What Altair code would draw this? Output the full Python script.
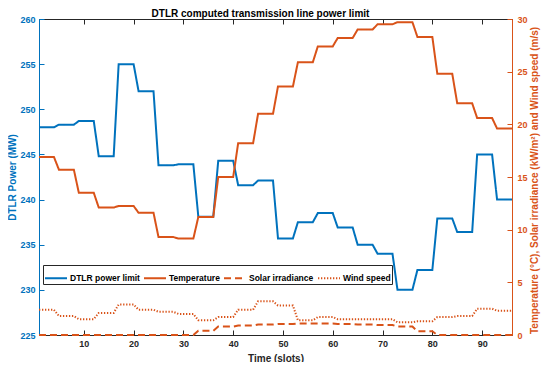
import altair as alt
import pandas as pd

# ---- data (hourly readings, each held for 4 quarter-hour slots)
hour_dtlr = [248.0, 248.3, 248.7, 244.8, 255.0, 252.0, 243.8, 243.9, 238.1, 244.3, 241.6, 242.1,
             235.7, 237.5, 238.5, 236.9, 235.0, 234.0, 230.0, 232.2, 237.9, 236.4, 245.0, 240.0]
hour_temp = [16.9, 15.7, 13.5, 12.1, 12.25, 11.6, 9.3, 9.15, 11.2, 15.0, 18.2, 21.0,
             23.6, 25.9, 27.4, 28.2, 29.0, 29.5, 29.7, 28.3, 24.8, 22.0, 20.6, 19.6]
hour_solar = [0, 0, 0, 0, 0, 0, 0, 0, 0.4, 0.8, 0.9, 1.0,
              1.05, 1.1, 1.1, 1.05, 1.0, 0.95, 0.8, 0.35, 0, 0, 0, 0]
hour_wind = [2.4, 1.8, 1.5, 2.1, 2.9, 2.4, 2.2, 2.0, 1.4, 1.7, 2.4, 3.2,
             2.8, 1.4, 1.7, 1.5, 1.5, 1.5, 1.2, 1.3, 1.7, 1.8, 2.5, 2.3]
SLOTS_PER_HOUR = 4

series_names = ["DTLR power limit", "Temperature", "Solar irradiance", "Wind speed"]
x_ticks = [10, 20, 30, 40, 50, 60, 70, 80, 90]
left_ticks = [225, 230, 235, 240, 245, 250, 255, 260]
right_ticks = [0, 5, 10, 15, 20, 25, 30]

BLUE = "#0072BD"
ORANGE = "#D95319"
DARK = "#262626"
FONT = "Liberation Sans"

slots = list(range(1, 24 * SLOTS_PER_HOUR + 1))


def expand(hourly):
    return [v for v in hourly for _ in range(SLOTS_PER_HOUR)]


df_left = pd.DataFrame({"slot": slots, "value": expand(hour_dtlr), "series": series_names[0]})
df_right = pd.concat(
    [pd.DataFrame({"slot": slots, "value": expand(h), "series": n})
     for h, n in zip([hour_temp, hour_solar, hour_wind], series_names[1:])],
    ignore_index=True,
)

W, H = 473, 316

xscale = alt.Scale(domain=[1, 96], nice=False, zero=False)
lscale = alt.Scale(domain=[225, 260], nice=False, zero=False)
rscale = alt.Scale(domain=[0, 30], nice=False, zero=False)

legend = alt.Legend(
    orient="none", legendX=4, legendY=246, direction="horizontal", columns=4, title=None,
    symbolType="stroke", symbolSize=484, symbolStrokeWidth=2,
    labelFont=FONT, labelFontSize=8.5, labelFontWeight="bold", labelColor="black",
    strokeColor=DARK, fillColor="white", padding=1, columnPadding=0, labelOffset=2,
)
color = alt.Color("series:N", scale=alt.Scale(domain=series_names, range=[BLUE, ORANGE, ORANGE, ORANGE]),
                  legend=legend)
dash = alt.StrokeDash("series:N", scale=alt.Scale(domain=series_names,
                                                  range=[[1, 0], [1, 0], [7, 4], [1.3, 1.7]]),
                      legend=legend)
swidth = alt.StrokeWidth("series:N", scale=alt.Scale(domain=series_names, range=[2, 2, 1.8, 1.3]),
                         legend=None)

x_bottom = alt.Axis(orient="bottom", values=x_ticks, offset=-5, tickSize=5, domain=False,
                    labelPadding=4, labelFontSize=9, labelFontWeight="bold", labelColor=DARK,
                    tickColor=DARK, title="Time (slots)", titleFontSize=10, titleFontWeight="bold",
                    titleColor=DARK, titlePadding=5, grid=False)
x_top = alt.Axis(orient="top", values=x_ticks, offset=-5, tickSize=5, domain=False, labels=False,
                 tickColor=DARK, title=None, grid=False)

y_left = alt.Axis(orient="left", values=left_ticks, offset=-5, tickSize=5, domain=False,
                  labelPadding=4, labelFontSize=9, labelFontWeight="bold", labelColor=BLUE,
                  tickColor=BLUE, title="DTLR Power (MW)", titleFontSize=10, titleFontWeight="bold",
                  titleColor=BLUE, titlePadding=2, grid=False)
y_left_line = alt.Axis(orient="left", domain=True, domainColor=BLUE, ticks=False, labels=False,
                       title=None, grid=False)

y_right = alt.Axis(orient="right", values=right_ticks, offset=-5, tickSize=5, domain=False,
                   labelPadding=5, labelFontSize=9, labelFontWeight="bold", labelColor=ORANGE,
                   tickColor=ORANGE,
                   title="Temperature (°C), Solar irradiance (kW/m²) and Wind speed (m/s)",
                   titleFontSize=10, titleFontWeight="bold", titleColor=ORANGE, titleAngle=270,
                   titleBaseline="top", titlePadding=2, titleY=161, grid=False)
y_right_line = alt.Axis(orient="right", domain=True, domainColor=ORANGE, ticks=False, labels=False,
                        title=None, grid=False)

dtlr = alt.Chart(df_left).mark_line(strokeWidth=2).encode(
    x=alt.X("slot:Q", scale=xscale, axis=x_bottom),
    y=alt.Y("value:Q", scale=lscale, axis=y_left),
    color=color, strokeDash=dash,
)
dtlr_frame = alt.Chart(df_left).mark_line(strokeOpacity=0).encode(
    x=alt.X("slot:Q", scale=xscale, axis=x_top),
    y=alt.Y("value:Q", scale=lscale, axis=y_left_line),
)
right = alt.Chart(df_right).mark_line().encode(
    x=alt.X("slot:Q", scale=xscale, axis=None),
    y=alt.Y("value:Q", scale=rscale, axis=y_right),
    color=color, strokeDash=dash, strokeWidth=swidth,
)
right_frame = alt.Chart(df_right).mark_line(strokeOpacity=0).encode(
    x=alt.X("slot:Q", scale=xscale, axis=None),
    y=alt.Y("value:Q", scale=rscale, axis=y_right_line),
    detail="series:N",
)

chart = alt.layer(dtlr, dtlr_frame, right, right_frame).resolve_scale(
    y="independent"
).resolve_axis(x="independent", y="independent").properties(
    width=W, height=H,
    title=alt.TitleParams("DTLR computed transmission line power limit", font=FONT, fontSize=10,
                          fontWeight="bold", color="black", offset=-4, anchor="middle", dx=-15),
    autosize=alt.AutoSizeParams(type="none"),
    padding={"left": 31, "top": 11, "right": 30, "bottom": 27},
).configure_view(stroke=DARK, strokeWidth=1).configure_axis(labelFont=FONT, titleFont=FONT)

chart.save("out.html", embed_options={"renderer": "svg", "actions": False})
